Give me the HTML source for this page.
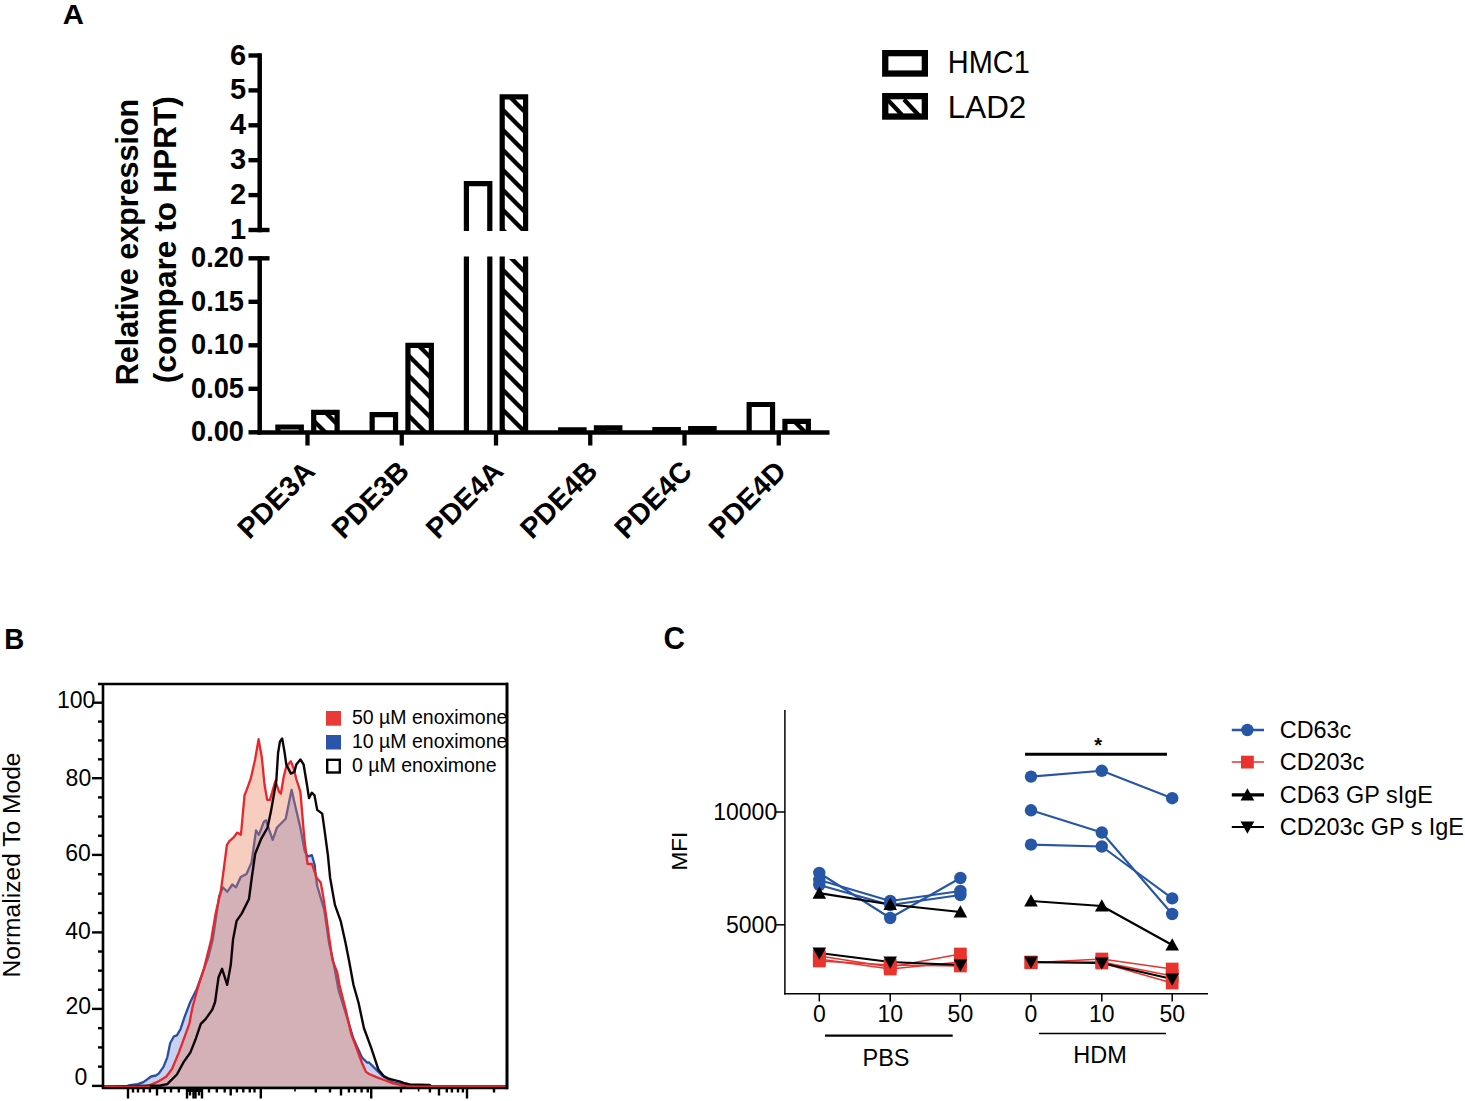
<!DOCTYPE html>
<html><head><meta charset="utf-8"><title>Figure</title>
<style>
html,body{margin:0;padding:0;background:#fff;}
body{width:1465px;height:1101px;overflow:hidden;}
svg{display:block;font-family:"Liberation Sans", sans-serif;}
</style></head><body>
<svg width="1465" height="1101" viewBox="0 0 1465 1101">
<defs>
<pattern id="hatch" width="20" height="20" patternUnits="userSpaceOnUse" patternTransform="translate(0,7)">
<path d="M-5,-5L25,25M-5,15L5,25M15,-5L25,5" stroke="#000" stroke-width="4.3"/>
</pattern>
</defs>
<rect width="1465" height="1101" fill="#fff"/>
<text x="62.8" y="24" font-size="28" font-weight="bold" text-anchor="start" fill="#000" textLength="21.2" lengthAdjust="spacingAndGlyphs">A</text>
<line x1="259.7" y1="53.3" x2="259.7" y2="232.2" stroke="#000" stroke-width="4.5" stroke-linecap="butt"/>
<line x1="248.5" y1="230" x2="269.5" y2="230" stroke="#000" stroke-width="4.4" stroke-linecap="butt"/>
<text x="246.2" y="239" font-size="29" font-weight="bold" text-anchor="end" fill="#000">1</text>
<line x1="248.5" y1="195.1" x2="259.7" y2="195.1" stroke="#000" stroke-width="4.4" stroke-linecap="butt"/>
<text x="246.2" y="204.1" font-size="29" font-weight="bold" text-anchor="end" fill="#000">2</text>
<line x1="248.5" y1="160.2" x2="259.7" y2="160.2" stroke="#000" stroke-width="4.4" stroke-linecap="butt"/>
<text x="246.2" y="169.2" font-size="29" font-weight="bold" text-anchor="end" fill="#000">3</text>
<line x1="248.5" y1="125.3" x2="259.7" y2="125.3" stroke="#000" stroke-width="4.4" stroke-linecap="butt"/>
<text x="246.2" y="134.3" font-size="29" font-weight="bold" text-anchor="end" fill="#000">4</text>
<line x1="248.5" y1="90.4" x2="259.7" y2="90.4" stroke="#000" stroke-width="4.4" stroke-linecap="butt"/>
<text x="246.2" y="99.4" font-size="29" font-weight="bold" text-anchor="end" fill="#000">5</text>
<line x1="248.5" y1="55.5" x2="259.7" y2="55.5" stroke="#000" stroke-width="4.4" stroke-linecap="butt"/>
<text x="246.2" y="64.5" font-size="29" font-weight="bold" text-anchor="end" fill="#000">6</text>
<line x1="259.7" y1="256" x2="259.7" y2="434.5" stroke="#000" stroke-width="4.5" stroke-linecap="butt"/>
<line x1="248.5" y1="432.3" x2="259.7" y2="432.3" stroke="#000" stroke-width="4.4" stroke-linecap="butt"/>
<text x="244" y="441.3" font-size="29" font-weight="bold" text-anchor="end" fill="#000" textLength="53" lengthAdjust="spacingAndGlyphs">0.00</text>
<line x1="248.5" y1="388.8" x2="259.7" y2="388.8" stroke="#000" stroke-width="4.4" stroke-linecap="butt"/>
<text x="244" y="397.8" font-size="29" font-weight="bold" text-anchor="end" fill="#000" textLength="53" lengthAdjust="spacingAndGlyphs">0.05</text>
<line x1="248.5" y1="345.3" x2="259.7" y2="345.3" stroke="#000" stroke-width="4.4" stroke-linecap="butt"/>
<text x="244" y="354.3" font-size="29" font-weight="bold" text-anchor="end" fill="#000" textLength="53" lengthAdjust="spacingAndGlyphs">0.10</text>
<line x1="248.5" y1="301.8" x2="259.7" y2="301.8" stroke="#000" stroke-width="4.4" stroke-linecap="butt"/>
<text x="244" y="310.8" font-size="29" font-weight="bold" text-anchor="end" fill="#000" textLength="53" lengthAdjust="spacingAndGlyphs">0.15</text>
<line x1="248.5" y1="258.3" x2="269.5" y2="258.3" stroke="#000" stroke-width="4.4" stroke-linecap="butt"/>
<text x="244" y="267.3" font-size="29" font-weight="bold" text-anchor="end" fill="#000" textLength="53" lengthAdjust="spacingAndGlyphs">0.20</text>
<line x1="257.5" y1="432.5" x2="829.5" y2="432.5" stroke="#000" stroke-width="4.6" stroke-linecap="butt"/>
<line x1="307.5" y1="432.5" x2="307.5" y2="445.5" stroke="#000" stroke-width="4.3" stroke-linecap="butt"/>
<text x="0" y="0" font-size="28.5" font-weight="bold" text-anchor="end" fill="#000" transform="translate(316.5,473) rotate(-45)">PDE3A</text>
<line x1="401.75" y1="432.5" x2="401.75" y2="445.5" stroke="#000" stroke-width="4.3" stroke-linecap="butt"/>
<text x="0" y="0" font-size="28.5" font-weight="bold" text-anchor="end" fill="#000" transform="translate(410.75,473) rotate(-45)">PDE3B</text>
<line x1="496" y1="432.5" x2="496" y2="445.5" stroke="#000" stroke-width="4.3" stroke-linecap="butt"/>
<text x="0" y="0" font-size="28.5" font-weight="bold" text-anchor="end" fill="#000" transform="translate(505,473) rotate(-45)">PDE4A</text>
<line x1="590.25" y1="432.5" x2="590.25" y2="445.5" stroke="#000" stroke-width="4.3" stroke-linecap="butt"/>
<text x="0" y="0" font-size="28.5" font-weight="bold" text-anchor="end" fill="#000" transform="translate(599.25,473) rotate(-45)">PDE4B</text>
<line x1="684.5" y1="432.5" x2="684.5" y2="445.5" stroke="#000" stroke-width="4.3" stroke-linecap="butt"/>
<text x="0" y="0" font-size="28.5" font-weight="bold" text-anchor="end" fill="#000" transform="translate(693.5,473) rotate(-45)">PDE4C</text>
<line x1="778.75" y1="432.5" x2="778.75" y2="445.5" stroke="#000" stroke-width="4.3" stroke-linecap="butt"/>
<text x="0" y="0" font-size="28.5" font-weight="bold" text-anchor="end" fill="#000" transform="translate(787.75,473) rotate(-45)">PDE4D</text>
<path d="M277.9,432.5V427H301.3V432.5" stroke="#000" stroke-width="5.2" fill="none" stroke-linejoin="miter"/>
<rect x="313.7" y="412.3" width="23.4" height="20.2" fill="url(#hatch)"/>
<path d="M313.7,432.5V412.3H337.1V432.5" stroke="#000" stroke-width="5.2" fill="none" stroke-linejoin="miter"/>
<path d="M372.15,432.5V414.6H395.55V432.5" stroke="#000" stroke-width="5.2" fill="none" stroke-linejoin="miter"/>
<rect x="407.95" y="345.3" width="23.4" height="87.2" fill="url(#hatch)"/>
<path d="M407.95,432.5V345.3H431.35V432.5" stroke="#000" stroke-width="5.2" fill="none" stroke-linejoin="miter"/>
<path d="M466.4,231V183.6H489.8V231" stroke="#000" stroke-width="5.2" fill="none" stroke-linejoin="miter"/>
<rect x="502.2" y="96.9" width="23.4" height="134.1" fill="url(#hatch)"/>
<path d="M502.2,231V96.9H525.6V231" stroke="#000" stroke-width="5.2" fill="none" stroke-linejoin="miter"/>
<path d="M466.4,256.4V432.5M489.8,256.4V432.5" stroke="#000" stroke-width="5.2" fill="none"/>
<rect x="502.2" y="259" width="23.4" height="173.5" fill="url(#hatch)"/>
<path d="M502.2,256.4V432.5M525.6,256.4V432.5" stroke="#000" stroke-width="5.2" fill="none"/>
<path d="M560.65,432.5V429.8H584.05V432.5" stroke="#000" stroke-width="5.2" fill="none" stroke-linejoin="miter"/>
<rect x="596.45" y="427.8" width="23.4" height="4.7" fill="url(#hatch)"/>
<path d="M596.45,432.5V427.8H619.85V432.5" stroke="#000" stroke-width="5.2" fill="none" stroke-linejoin="miter"/>
<path d="M654.9,432.5V429.6H678.3V432.5" stroke="#000" stroke-width="5.2" fill="none" stroke-linejoin="miter"/>
<rect x="690.7" y="428.6" width="23.4" height="3.9" fill="url(#hatch)"/>
<path d="M690.7,432.5V428.6H714.1V432.5" stroke="#000" stroke-width="5.2" fill="none" stroke-linejoin="miter"/>
<path d="M749.15,432.5V404.5H772.55V432.5" stroke="#000" stroke-width="5.2" fill="none" stroke-linejoin="miter"/>
<rect x="784.95" y="421.3" width="23.4" height="11.2" fill="url(#hatch)"/>
<path d="M784.95,432.5V421.3H808.35V432.5" stroke="#000" stroke-width="5.2" fill="none" stroke-linejoin="miter"/>
<rect x="885.25" y="53.15" width="39.6" height="20.4" fill="#fff" stroke="#000" stroke-width="6.3"/>
<rect x="885.25" y="96.15" width="39.6" height="20.4" fill="#fff" stroke="#000" stroke-width="6.3"/>
<path d="M887.5,99.5L902,115M904,99.5L918.5,115" stroke="#000" stroke-width="4.2"/>
<text x="947.8" y="73.4" font-size="30.8" font-weight="normal" text-anchor="start" fill="#000" textLength="82" lengthAdjust="spacingAndGlyphs">HMC1</text>
<text x="947.8" y="117.9" font-size="30.8" font-weight="normal" text-anchor="start" fill="#000" textLength="78.5" lengthAdjust="spacingAndGlyphs">LAD2</text>
<text x="0" y="0" font-size="30.5" font-weight="bold" text-anchor="middle" fill="#000" transform="translate(137.8,242) rotate(-90)">Relative expression</text>
<text x="0" y="0" font-size="30.5" font-weight="bold" text-anchor="middle" fill="#000" transform="translate(176.3,239.7) rotate(-90)" textLength="287" lengthAdjust="spacingAndGlyphs">(compare to HPRT)</text>
<text x="4.3" y="649.2" font-size="29.5" font-weight="bold" text-anchor="start" fill="#000" textLength="20" lengthAdjust="spacingAndGlyphs">B</text>
<g>
<path d="M103,1086.6 L126,1086.3 L130.1,1085.1 L137.7,1084.1 L143.4,1082.2 L151.1,1076.5 L155.9,1075.5 L158.7,1073.6 L163.5,1066.9 L167.3,1057.3 L170.2,1043 L174,1036.3 L176.9,1035.4 L180.7,1028.7 L184.5,1017.2 L190.3,1002 L196.7,989.2 L208.3,957.2 L212.7,939.8 L219.2,896.2 L222.8,887.4 L227.2,891.8 L232.3,884.5 L235.9,887.4 L240.7,877 L246.5,874 L251.6,862.4 L256,830.4 L258.9,834.8 L263.9,821.7 L266.1,820.3 L268.3,827.5 L272.7,839.9 L277,827.5 L285.7,818.8 L291.6,789.8 L294.5,802.8 L300.3,827.5 L304.6,850.8 L307.5,856.6 L311.9,855.2 L314.8,865.3 L315.4,873 L317.2,886 L324.2,909.6 L329,942.7 L333.7,963.9 L338.4,989.3 L345.1,1011.3 L353.4,1038.5 L361.8,1057.3 L367,1062.5 L369.1,1062.5 L372.2,1065.6 L378.5,1071.9 L382.7,1076.1 L393.1,1082.3 L403.6,1084.4 L415,1086.3 L507,1086.6 Z" fill="rgb(40,80,200)" fill-opacity="0.26" stroke="none"/>
<path d="M103,1086.6 L126,1086.3 L130.1,1085.1 L137.7,1084.1 L143.4,1082.2 L151.1,1076.5 L155.9,1075.5 L158.7,1073.6 L163.5,1066.9 L167.3,1057.3 L170.2,1043 L174,1036.3 L176.9,1035.4 L180.7,1028.7 L184.5,1017.2 L190.3,1002 L196.7,989.2 L208.3,957.2 L212.7,939.8 L219.2,896.2 L222.8,887.4 L227.2,891.8 L232.3,884.5 L235.9,887.4 L240.7,877 L246.5,874 L251.6,862.4 L256,830.4 L258.9,834.8 L263.9,821.7 L266.1,820.3 L268.3,827.5 L272.7,839.9 L277,827.5 L285.7,818.8 L291.6,789.8 L294.5,802.8 L300.3,827.5 L304.6,850.8 L307.5,856.6 L311.9,855.2 L314.8,865.3 L315.4,873 L317.2,886 L324.2,909.6 L329,942.7 L333.7,963.9 L338.4,989.3 L345.1,1011.3 L353.4,1038.5 L361.8,1057.3 L367,1062.5 L369.1,1062.5 L372.2,1065.6 L378.5,1071.9 L382.7,1076.1 L393.1,1082.3 L403.6,1084.4 L415,1086.3 L507,1086.6" fill="none" stroke="#2a4fa2" stroke-width="2.3" stroke-linejoin="round"/>
<path d="M103,1086.6 L146.3,1086.5 L150.1,1085.1 L158.7,1081.2 L166.4,1076.5 L172.1,1068.8 L178.8,1052.6 L189.3,1023.9 L192.3,1008 L197.4,989.2 L203.9,968.8 L211.2,939.8 L215.6,913.6 L220.7,891.8 L223,875 L226.9,845 L229.1,841.3 L233.4,837.7 L237.1,832.6 L240.7,834.8 L241.4,829.9 L244.5,795.4 L247.3,788.1 L250.9,778.1 L255,760 L258.6,739.1 L261.8,757.2 L264.5,784.5 L267.2,799.9 L270,799.9 L275.4,780.9 L279.1,791.8 L280.9,793.6 L283.6,777.2 L286.3,766.3 L290.9,761.3 L293.6,768.1 L296.3,779 L300.4,791.8 L303.6,829.9 L304.6,840.6 L307.5,863.9 L311.9,864 L316.6,877.7 L320.7,882.4 L323.1,895.4 L326.6,919 L329,936.7 L332.5,960.4 L337.2,972.2 L339.5,985 L346.1,1011.3 L351.3,1034.3 L357.6,1051 L361.8,1062.5 L366,1071.9 L369.1,1074 L376.4,1077.1 L384.8,1080.3 L393.1,1083.4 L401.5,1085 L408.8,1086 L420,1086.5 L507,1086.6 Z" fill="rgb(234,123,89)" fill-opacity="0.38" stroke="none"/>
<path d="M103,1086.6 L146.3,1086.5 L150.1,1085.1 L158.7,1081.2 L166.4,1076.5 L172.1,1068.8 L178.8,1052.6 L189.3,1023.9 L192.3,1008 L197.4,989.2 L203.9,968.8 L211.2,939.8 L215.6,913.6 L220.7,891.8 L223,875 L226.9,845 L229.1,841.3 L233.4,837.7 L237.1,832.6 L240.7,834.8 L241.4,829.9 L244.5,795.4 L247.3,788.1 L250.9,778.1 L255,760 L258.6,739.1 L261.8,757.2 L264.5,784.5 L267.2,799.9 L270,799.9 L275.4,780.9 L279.1,791.8 L280.9,793.6 L283.6,777.2 L286.3,766.3 L290.9,761.3 L293.6,768.1 L296.3,779 L300.4,791.8 L303.6,829.9 L304.6,840.6 L307.5,863.9 L311.9,864 L316.6,877.7 L320.7,882.4 L323.1,895.4 L326.6,919 L329,936.7 L332.5,960.4 L337.2,972.2 L339.5,985 L346.1,1011.3 L351.3,1034.3 L357.6,1051 L361.8,1062.5 L366,1071.9 L369.1,1074 L376.4,1077.1 L384.8,1080.3 L393.1,1083.4 L401.5,1085 L408.8,1086 L420,1086.5 L507,1086.6" fill="none" stroke="#e8262c" stroke-width="2.3" stroke-linejoin="round"/>
</g>
<path d="M103,1086.6 L160.6,1085.5 L167.3,1084.1 L176.9,1074.5 L183.6,1062.1 L190.3,1052.6 L196,1038.2 L200.8,1023.9 L205.6,1019.1 L212.3,1009.6 L215.1,1002 L218.5,977.5 L222.1,968.8 L227.2,984.8 L230.8,964.5 L233,939.8 L236.6,920.9 L241.7,913.6 L249,899 L251.6,879 L255.2,853.7 L261,839.2 L267.6,827.5 L271.2,810.1 L276.3,780.9 L278.1,752.7 L280,741.4 L282.2,738.6 L284.5,751.8 L286.3,764.5 L290.9,773.6 L294.5,771.8 L296.3,764.5 L300.4,759.5 L303.6,764.5 L307.2,786.3 L309,798.1 L311.8,792.7 L314.5,795.4 L317.2,809.9 L322.2,813.6 L324.5,829.9 L327.9,855.2 L330.1,877.7 L334.9,904.9 L340.8,921.4 L345.5,942.7 L349,960.4 L353.5,985 L358.6,1003 L363.9,1028 L371.2,1047.9 L378.5,1069.8 L383.7,1076.1 L388.9,1078.7 L395.2,1080.3 L399.4,1081.3 L403.6,1082.9 L409.8,1084.4 L429.7,1085 L430.7,1086.5 L507,1086.6" fill="none" stroke="#0d0509" stroke-width="2.4" stroke-linejoin="round"/>
<path d="M98,684H507V1087.9H103V684" fill="none" stroke="#000" stroke-width="2.6"/>
<line x1="92" y1="1085.9" x2="103" y2="1085.9" stroke="#000" stroke-width="2.4" stroke-linecap="butt"/>
<line x1="98" y1="1066.65" x2="103" y2="1066.65" stroke="#000" stroke-width="2.4" stroke-linecap="butt"/>
<line x1="98" y1="1047.4" x2="103" y2="1047.4" stroke="#000" stroke-width="2.4" stroke-linecap="butt"/>
<line x1="98" y1="1028.15" x2="103" y2="1028.15" stroke="#000" stroke-width="2.4" stroke-linecap="butt"/>
<line x1="92" y1="1008.9" x2="103" y2="1008.9" stroke="#000" stroke-width="2.4" stroke-linecap="butt"/>
<line x1="98" y1="989.77" x2="103" y2="989.77" stroke="#000" stroke-width="2.4" stroke-linecap="butt"/>
<line x1="98" y1="970.65" x2="103" y2="970.65" stroke="#000" stroke-width="2.4" stroke-linecap="butt"/>
<line x1="98" y1="951.52" x2="103" y2="951.52" stroke="#000" stroke-width="2.4" stroke-linecap="butt"/>
<line x1="92" y1="932.4" x2="103" y2="932.4" stroke="#000" stroke-width="2.4" stroke-linecap="butt"/>
<line x1="98" y1="913.02" x2="103" y2="913.02" stroke="#000" stroke-width="2.4" stroke-linecap="butt"/>
<line x1="98" y1="893.65" x2="103" y2="893.65" stroke="#000" stroke-width="2.4" stroke-linecap="butt"/>
<line x1="98" y1="874.27" x2="103" y2="874.27" stroke="#000" stroke-width="2.4" stroke-linecap="butt"/>
<line x1="92" y1="854.9" x2="103" y2="854.9" stroke="#000" stroke-width="2.4" stroke-linecap="butt"/>
<line x1="98" y1="835.73" x2="103" y2="835.73" stroke="#000" stroke-width="2.4" stroke-linecap="butt"/>
<line x1="98" y1="816.55" x2="103" y2="816.55" stroke="#000" stroke-width="2.4" stroke-linecap="butt"/>
<line x1="98" y1="797.38" x2="103" y2="797.38" stroke="#000" stroke-width="2.4" stroke-linecap="butt"/>
<line x1="92" y1="778.2" x2="103" y2="778.2" stroke="#000" stroke-width="2.4" stroke-linecap="butt"/>
<line x1="98" y1="759.33" x2="103" y2="759.33" stroke="#000" stroke-width="2.4" stroke-linecap="butt"/>
<line x1="98" y1="740.45" x2="103" y2="740.45" stroke="#000" stroke-width="2.4" stroke-linecap="butt"/>
<line x1="98" y1="721.58" x2="103" y2="721.58" stroke="#000" stroke-width="2.4" stroke-linecap="butt"/>
<line x1="92" y1="702.7" x2="103" y2="702.7" stroke="#000" stroke-width="2.4" stroke-linecap="butt"/>
<text x="95.4" y="707.8" font-size="23" font-weight="normal" text-anchor="end" fill="#000">100</text>
<text x="91.2" y="785.9" font-size="23" font-weight="normal" text-anchor="end" fill="#000">80</text>
<text x="90.8" y="861.4" font-size="23" font-weight="normal" text-anchor="end" fill="#000">60</text>
<text x="90.8" y="939.1" font-size="23" font-weight="normal" text-anchor="end" fill="#000">40</text>
<text x="91" y="1014" font-size="23" font-weight="normal" text-anchor="end" fill="#000">20</text>
<text x="87.3" y="1084.7" font-size="23" font-weight="normal" text-anchor="end" fill="#000">0</text>
<line x1="128" y1="1087.9" x2="128" y2="1098.5" stroke="#000" stroke-width="2.4" stroke-linecap="butt"/>
<line x1="260.8" y1="1087.9" x2="260.8" y2="1098.5" stroke="#000" stroke-width="2.4" stroke-linecap="butt"/>
<line x1="371.2" y1="1087.9" x2="371.2" y2="1098.5" stroke="#000" stroke-width="2.4" stroke-linecap="butt"/>
<line x1="467" y1="1087.9" x2="467" y2="1098.5" stroke="#000" stroke-width="2.4" stroke-linecap="butt"/>
<line x1="157" y1="1087.9" x2="157" y2="1095.5" stroke="#000" stroke-width="2.4" stroke-linecap="butt"/>
<line x1="230.7" y1="1087.9" x2="230.7" y2="1095.5" stroke="#000" stroke-width="2.4" stroke-linecap="butt"/>
<line x1="341" y1="1087.9" x2="341" y2="1095.5" stroke="#000" stroke-width="2.4" stroke-linecap="butt"/>
<line x1="439" y1="1087.9" x2="439" y2="1095.5" stroke="#000" stroke-width="2.4" stroke-linecap="butt"/>
<line x1="133" y1="1087.9" x2="133" y2="1092.5" stroke="#000" stroke-width="2.4" stroke-linecap="butt"/>
<line x1="138" y1="1087.9" x2="138" y2="1092.5" stroke="#000" stroke-width="2.4" stroke-linecap="butt"/>
<line x1="143.7" y1="1087.9" x2="143.7" y2="1092.5" stroke="#000" stroke-width="2.4" stroke-linecap="butt"/>
<line x1="149.9" y1="1087.9" x2="149.9" y2="1092.5" stroke="#000" stroke-width="2.4" stroke-linecap="butt"/>
<line x1="164.8" y1="1087.9" x2="164.8" y2="1092.5" stroke="#000" stroke-width="2.4" stroke-linecap="butt"/>
<line x1="171" y1="1087.9" x2="171" y2="1092.5" stroke="#000" stroke-width="2.4" stroke-linecap="butt"/>
<line x1="178.8" y1="1087.9" x2="178.8" y2="1092.5" stroke="#000" stroke-width="2.4" stroke-linecap="butt"/>
<line x1="209" y1="1087.9" x2="209" y2="1092.5" stroke="#000" stroke-width="2.4" stroke-linecap="butt"/>
<line x1="216.8" y1="1087.9" x2="216.8" y2="1092.5" stroke="#000" stroke-width="2.4" stroke-linecap="butt"/>
<line x1="224.7" y1="1087.9" x2="224.7" y2="1092.5" stroke="#000" stroke-width="2.4" stroke-linecap="butt"/>
<line x1="236.9" y1="1087.9" x2="236.9" y2="1092.5" stroke="#000" stroke-width="2.4" stroke-linecap="butt"/>
<line x1="243.3" y1="1087.9" x2="243.3" y2="1092.5" stroke="#000" stroke-width="2.4" stroke-linecap="butt"/>
<line x1="249.8" y1="1087.9" x2="249.8" y2="1092.5" stroke="#000" stroke-width="2.4" stroke-linecap="butt"/>
<line x1="254.5" y1="1087.9" x2="254.5" y2="1092.5" stroke="#000" stroke-width="2.4" stroke-linecap="butt"/>
<line x1="315.8" y1="1087.9" x2="315.8" y2="1092.5" stroke="#000" stroke-width="2.4" stroke-linecap="butt"/>
<line x1="330" y1="1087.9" x2="330" y2="1092.5" stroke="#000" stroke-width="2.4" stroke-linecap="butt"/>
<line x1="348.9" y1="1087.9" x2="348.9" y2="1092.5" stroke="#000" stroke-width="2.4" stroke-linecap="butt"/>
<line x1="355" y1="1087.9" x2="355" y2="1092.5" stroke="#000" stroke-width="2.4" stroke-linecap="butt"/>
<line x1="361.6" y1="1087.9" x2="361.6" y2="1092.5" stroke="#000" stroke-width="2.4" stroke-linecap="butt"/>
<line x1="367.8" y1="1087.9" x2="367.8" y2="1092.5" stroke="#000" stroke-width="2.4" stroke-linecap="butt"/>
<line x1="401" y1="1087.9" x2="401" y2="1092.5" stroke="#000" stroke-width="2.4" stroke-linecap="butt"/>
<line x1="429.9" y1="1087.9" x2="429.9" y2="1092.5" stroke="#000" stroke-width="2.4" stroke-linecap="butt"/>
<line x1="446.8" y1="1087.9" x2="446.8" y2="1092.5" stroke="#000" stroke-width="2.4" stroke-linecap="butt"/>
<line x1="451.9" y1="1087.9" x2="451.9" y2="1092.5" stroke="#000" stroke-width="2.4" stroke-linecap="butt"/>
<line x1="458" y1="1087.9" x2="458" y2="1092.5" stroke="#000" stroke-width="2.4" stroke-linecap="butt"/>
<line x1="462.9" y1="1087.9" x2="462.9" y2="1092.5" stroke="#000" stroke-width="2.4" stroke-linecap="butt"/>
<line x1="494" y1="1087.9" x2="494" y2="1092.5" stroke="#000" stroke-width="2.4" stroke-linecap="butt"/>
<line x1="295" y1="1087.9" x2="295" y2="1091.5" stroke="#000" stroke-width="1.6" stroke-linecap="butt"/>
<line x1="418.6" y1="1087.9" x2="418.6" y2="1091.5" stroke="#000" stroke-width="1.6" stroke-linecap="butt"/>
<rect x="186" y="1087" width="17" height="5" fill="#000"/>
<line x1="187" y1="1087.9" x2="187" y2="1098.5" stroke="#000" stroke-width="2.4" stroke-linecap="butt"/>
<line x1="190" y1="1087.9" x2="190" y2="1095.5" stroke="#000" stroke-width="2.4" stroke-linecap="butt"/>
<line x1="193.5" y1="1087.9" x2="193.5" y2="1098.5" stroke="#000" stroke-width="2.4" stroke-linecap="butt"/>
<line x1="195.5" y1="1087.9" x2="195.5" y2="1098.5" stroke="#000" stroke-width="2.4" stroke-linecap="butt"/>
<line x1="199" y1="1087.9" x2="199" y2="1095.5" stroke="#000" stroke-width="2.4" stroke-linecap="butt"/>
<line x1="202" y1="1087.9" x2="202" y2="1098.5" stroke="#000" stroke-width="2.4" stroke-linecap="butt"/>
<text x="0" y="0" font-size="24.6" font-weight="normal" text-anchor="middle" fill="#000" transform="translate(20.2,865) rotate(-90)">Normalized To Mode</text>
<rect x="326" y="711" width="15" height="14.7" fill="#e83a36"/>
<rect x="326" y="735" width="15" height="14.5" fill="#2a55a8"/>
<rect x="327.2" y="759.8" width="12.6" height="12.7" fill="#fff" stroke="#000" stroke-width="2.4"/>
<text x="352" y="724.2" font-size="19.5" font-weight="normal" text-anchor="start" fill="#000">50 µM enoximone</text>
<text x="352" y="748" font-size="19.5" font-weight="normal" text-anchor="start" fill="#000">10 µM enoximone</text>
<text x="352" y="771.6" font-size="19.5" font-weight="normal" text-anchor="start" fill="#000">0 µM enoximone</text>
<line x1="104.3" y1="1086.3" x2="150" y2="1086.3" stroke="#d8282e" stroke-width="1.5" stroke-linecap="butt"/>
<line x1="406" y1="1086.3" x2="505.7" y2="1086.3" stroke="#d8282e" stroke-width="1.5" stroke-linecap="butt"/>
<line x1="507" y1="682.7" x2="507" y2="1089.2" stroke="#000" stroke-width="2.6" stroke-linecap="butt"/>
<text x="663.6" y="649" font-size="30.5" font-weight="bold" text-anchor="start" fill="#000" textLength="21.5" lengthAdjust="spacingAndGlyphs">C</text>
<line x1="784.9" y1="710" x2="784.9" y2="994.55" stroke="#000" stroke-width="1.5" stroke-linecap="butt"/>
<line x1="784.15" y1="993.8" x2="1208" y2="993.8" stroke="#000" stroke-width="1.5" stroke-linecap="butt"/>
<line x1="776" y1="812" x2="784.9" y2="812" stroke="#000" stroke-width="1.5" stroke-linecap="butt"/>
<text x="777.2" y="820" font-size="23" font-weight="normal" text-anchor="end" fill="#000">10000</text>
<line x1="776" y1="924.8" x2="784.9" y2="924.8" stroke="#000" stroke-width="1.5" stroke-linecap="butt"/>
<text x="777.2" y="932.8" font-size="23" font-weight="normal" text-anchor="end" fill="#000">5000</text>
<line x1="819.3" y1="993.8" x2="819.3" y2="1001.5" stroke="#000" stroke-width="1.5" stroke-linecap="butt"/>
<text x="819.3" y="1022.3" font-size="23" font-weight="normal" text-anchor="middle" fill="#000">0</text>
<line x1="890.2" y1="993.8" x2="890.2" y2="1001.5" stroke="#000" stroke-width="1.5" stroke-linecap="butt"/>
<text x="890.2" y="1022.3" font-size="23" font-weight="normal" text-anchor="middle" fill="#000">10</text>
<line x1="960.4" y1="993.8" x2="960.4" y2="1001.5" stroke="#000" stroke-width="1.5" stroke-linecap="butt"/>
<text x="960.4" y="1022.3" font-size="23" font-weight="normal" text-anchor="middle" fill="#000">50</text>
<line x1="1031" y1="993.8" x2="1031" y2="1001.5" stroke="#000" stroke-width="1.5" stroke-linecap="butt"/>
<text x="1031" y="1022.3" font-size="23" font-weight="normal" text-anchor="middle" fill="#000">0</text>
<line x1="1101.8" y1="993.8" x2="1101.8" y2="1001.5" stroke="#000" stroke-width="1.5" stroke-linecap="butt"/>
<text x="1101.8" y="1022.3" font-size="23" font-weight="normal" text-anchor="middle" fill="#000">10</text>
<line x1="1172.2" y1="993.8" x2="1172.2" y2="1001.5" stroke="#000" stroke-width="1.5" stroke-linecap="butt"/>
<text x="1172.2" y="1022.3" font-size="23" font-weight="normal" text-anchor="middle" fill="#000">50</text>
<line x1="825" y1="1035.6" x2="952.7" y2="1035.6" stroke="#000" stroke-width="2.2" stroke-linecap="butt"/>
<line x1="1038.9" y1="1033.5" x2="1166" y2="1033.5" stroke="#000" stroke-width="1.5" stroke-linecap="butt"/>
<text x="886" y="1065.8" font-size="23.5" font-weight="normal" text-anchor="middle" fill="#000">PBS</text>
<text x="1100" y="1062.8" font-size="23.5" font-weight="normal" text-anchor="middle" fill="#000">HDM</text>
<line x1="1025" y1="754.3" x2="1167" y2="754.3" stroke="#000" stroke-width="3" stroke-linecap="butt"/>
<text x="1098.2" y="752" font-size="20" font-weight="bold" text-anchor="middle" fill="#000">*</text>
<text x="0" y="0" font-size="22.5" font-weight="normal" text-anchor="middle" fill="#000" transform="translate(687.2,851) rotate(-90)">MFI</text>
<polyline points="819.3,956 890.2,967 960.4,954" fill="none" stroke="#e8332f" stroke-width="1.6" stroke-linejoin="round"/>
<polyline points="819.3,959 890.2,969 960.4,962" fill="none" stroke="#e8332f" stroke-width="1.6" stroke-linejoin="round"/>
<polyline points="819.3,961 890.2,965 960.4,966" fill="none" stroke="#e8332f" stroke-width="1.6" stroke-linejoin="round"/>
<polyline points="1031,962.7 1101.8,959 1172.2,969" fill="none" stroke="#e8332f" stroke-width="1.6" stroke-linejoin="round"/>
<polyline points="1031,962.7 1101.8,962 1172.2,976" fill="none" stroke="#e8332f" stroke-width="1.6" stroke-linejoin="round"/>
<polyline points="1031,962 1101.8,963 1172.2,983" fill="none" stroke="#e8332f" stroke-width="1.6" stroke-linejoin="round"/>
<polyline points="819.3,953 890.2,962 960.4,965" fill="none" stroke="#000" stroke-width="2.0" stroke-linejoin="round"/>
<polyline points="1031,962 1101.8,963 1172.2,979" fill="none" stroke="#000" stroke-width="2.0" stroke-linejoin="round"/>
<polyline points="819.3,873 890.2,918 960.4,878" fill="none" stroke="#2756a6" stroke-width="2.1" stroke-linejoin="round"/>
<polyline points="819.3,880 890.2,901 960.4,891" fill="none" stroke="#2756a6" stroke-width="2.1" stroke-linejoin="round"/>
<polyline points="819.3,885 890.2,905 960.4,895" fill="none" stroke="#2756a6" stroke-width="2.1" stroke-linejoin="round"/>
<polyline points="1031,776.6 1101.8,770.8 1172.2,798.2" fill="none" stroke="#2756a6" stroke-width="2.1" stroke-linejoin="round"/>
<polyline points="1031,810.3 1101.8,832.5 1172.2,914" fill="none" stroke="#2756a6" stroke-width="2.1" stroke-linejoin="round"/>
<polyline points="1031,844.6 1101.8,846.5 1172.2,898.4" fill="none" stroke="#2756a6" stroke-width="2.1" stroke-linejoin="round"/>
<polyline points="819.3,893.2 890.2,904.5 960.4,912" fill="none" stroke="#000" stroke-width="2.2" stroke-linejoin="round"/>
<polyline points="1031,901 1101.8,906 1172.2,945" fill="none" stroke="#000" stroke-width="2.2" stroke-linejoin="round"/>
<rect x="812.95" y="949.65" width="12.7" height="12.7" fill="#e8332f"/>
<rect x="883.85" y="960.65" width="12.7" height="12.7" fill="#e8332f"/>
<rect x="954.05" y="947.65" width="12.7" height="12.7" fill="#e8332f"/>
<rect x="812.95" y="952.65" width="12.7" height="12.7" fill="#e8332f"/>
<rect x="883.85" y="962.65" width="12.7" height="12.7" fill="#e8332f"/>
<rect x="954.05" y="955.65" width="12.7" height="12.7" fill="#e8332f"/>
<rect x="812.95" y="954.65" width="12.7" height="12.7" fill="#e8332f"/>
<rect x="883.85" y="958.65" width="12.7" height="12.7" fill="#e8332f"/>
<rect x="954.05" y="959.65" width="12.7" height="12.7" fill="#e8332f"/>
<rect x="1024.65" y="956.35" width="12.7" height="12.7" fill="#e8332f"/>
<rect x="1095.45" y="952.65" width="12.7" height="12.7" fill="#e8332f"/>
<rect x="1165.85" y="962.65" width="12.7" height="12.7" fill="#e8332f"/>
<rect x="1024.65" y="956.35" width="12.7" height="12.7" fill="#e8332f"/>
<rect x="1095.45" y="955.65" width="12.7" height="12.7" fill="#e8332f"/>
<rect x="1165.85" y="969.65" width="12.7" height="12.7" fill="#e8332f"/>
<rect x="1024.65" y="955.65" width="12.7" height="12.7" fill="#e8332f"/>
<rect x="1095.45" y="956.65" width="12.7" height="12.7" fill="#e8332f"/>
<rect x="1165.85" y="976.65" width="12.7" height="12.7" fill="#e8332f"/>
<path d="M819.3,959.65L826.09,947.56L812.51,947.56Z" fill="#000"/>
<path d="M890.2,968.65L896.99,956.56L883.41,956.56Z" fill="#000"/>
<path d="M960.4,971.65L967.19,959.56L953.61,959.56Z" fill="#000"/>
<path d="M1031,968.65L1037.79,956.56L1024.21,956.56Z" fill="#000"/>
<path d="M1101.8,969.65L1108.59,957.56L1095.01,957.56Z" fill="#000"/>
<path d="M1172.2,985.65L1178.99,973.56L1165.41,973.56Z" fill="#000"/>
<circle cx="819.3" cy="873" r="6.2" fill="#2756a6"/>
<circle cx="890.2" cy="918" r="6.2" fill="#2756a6"/>
<circle cx="960.4" cy="878" r="6.2" fill="#2756a6"/>
<circle cx="819.3" cy="880" r="6.2" fill="#2756a6"/>
<circle cx="890.2" cy="901" r="6.2" fill="#2756a6"/>
<circle cx="960.4" cy="891" r="6.2" fill="#2756a6"/>
<circle cx="819.3" cy="885" r="6.2" fill="#2756a6"/>
<circle cx="890.2" cy="905" r="6.2" fill="#2756a6"/>
<circle cx="960.4" cy="895" r="6.2" fill="#2756a6"/>
<circle cx="1031" cy="776.6" r="6.2" fill="#2756a6"/>
<circle cx="1101.8" cy="770.8" r="6.2" fill="#2756a6"/>
<circle cx="1172.2" cy="798.2" r="6.2" fill="#2756a6"/>
<circle cx="1031" cy="810.3" r="6.2" fill="#2756a6"/>
<circle cx="1101.8" cy="832.5" r="6.2" fill="#2756a6"/>
<circle cx="1172.2" cy="914" r="6.2" fill="#2756a6"/>
<circle cx="1031" cy="844.6" r="6.2" fill="#2756a6"/>
<circle cx="1101.8" cy="846.5" r="6.2" fill="#2756a6"/>
<circle cx="1172.2" cy="898.4" r="6.2" fill="#2756a6"/>
<path d="M819.3,886.55L826.09,898.64L812.51,898.64Z" fill="#000"/>
<path d="M890.2,897.85L896.99,909.94L883.41,909.94Z" fill="#000"/>
<path d="M960.4,905.35L967.19,917.44L953.61,917.44Z" fill="#000"/>
<path d="M1031,894.35L1037.79,906.44L1024.21,906.44Z" fill="#000"/>
<path d="M1101.8,899.35L1108.59,911.44L1095.01,911.44Z" fill="#000"/>
<path d="M1172.2,938.35L1178.99,950.44L1165.41,950.44Z" fill="#000"/>
<line x1="1231.8" y1="730" x2="1264" y2="730" stroke="#2756a6" stroke-width="2.4" stroke-linecap="butt"/>
<circle cx="1247.4" cy="730" r="6.2" fill="#2756a6"/>
<line x1="1231.8" y1="762.1" x2="1264" y2="762.1" stroke="#e8332f" stroke-width="1.5" stroke-linecap="butt"/>
<rect x="1241" y="755.7" width="12.8" height="12.8" fill="#e8332f"/>
<line x1="1231.8" y1="794.9" x2="1264" y2="794.9" stroke="#000" stroke-width="3.2" stroke-linecap="butt"/>
<path d="M1247.4,788.2L1254.25,800.39L1240.55,800.39Z" fill="#000"/>
<line x1="1231.8" y1="827" x2="1264" y2="827" stroke="#000" stroke-width="1.8" stroke-linecap="butt"/>
<path d="M1247.4,833.7L1254.25,821.51L1240.55,821.51Z" fill="#000"/>
<text x="1279.8" y="738.2" font-size="23.4" font-weight="normal" text-anchor="start" fill="#000">CD63c</text>
<text x="1279.8" y="770.3" font-size="23.4" font-weight="normal" text-anchor="start" fill="#000">CD203c</text>
<text x="1279.8" y="803.1" font-size="23.4" font-weight="normal" text-anchor="start" fill="#000">CD63 GP sIgE</text>
<text x="1279.8" y="835.2" font-size="23.4" font-weight="normal" text-anchor="start" fill="#000">CD203c GP s IgE</text>
</svg>
</body></html>
